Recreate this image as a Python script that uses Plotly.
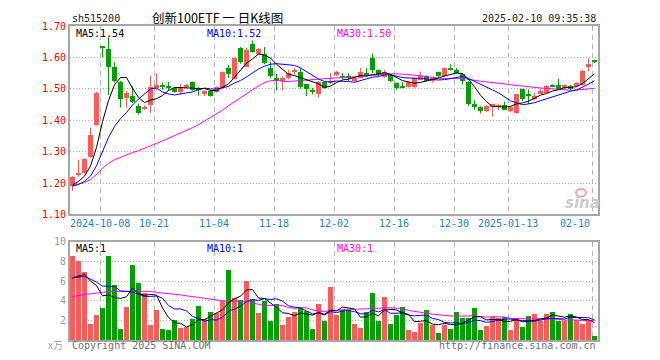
import plotly.graph_objects as go

# ---------------- data ----------------
dates = [
    "2024-09-24", "2024-09-25", "2024-09-26", "2024-09-27", "2024-09-30",
    "2024-10-08", "2024-10-09", "2024-10-10", "2024-10-11", "2024-10-14", "2024-10-15",
    "2024-10-16", "2024-10-17", "2024-10-18", "2024-10-21", "2024-10-22", "2024-10-23",
    "2024-10-24", "2024-10-25", "2024-10-28", "2024-10-29", "2024-10-30", "2024-10-31",
    "2024-11-01", "2024-11-04", "2024-11-05", "2024-11-06", "2024-11-07", "2024-11-08",
    "2024-11-11", "2024-11-12", "2024-11-13", "2024-11-14", "2024-11-15", "2024-11-18",
    "2024-11-19", "2024-11-20", "2024-11-21", "2024-11-22", "2024-11-25", "2024-11-26",
    "2024-11-27", "2024-11-28", "2024-11-29",
    "2024-12-02", "2024-12-03", "2024-12-04", "2024-12-05", "2024-12-06", "2024-12-09",
    "2024-12-10", "2024-12-11", "2024-12-12", "2024-12-13", "2024-12-16", "2024-12-17",
    "2024-12-18", "2024-12-19", "2024-12-20", "2024-12-23", "2024-12-24", "2024-12-25",
    "2024-12-26", "2024-12-27", "2024-12-30", "2024-12-31",
    "2025-01-02", "2025-01-03", "2025-01-06", "2025-01-07", "2025-01-08", "2025-01-09",
    "2025-01-10", "2025-01-13", "2025-01-14", "2025-01-15", "2025-01-16", "2025-01-17",
    "2025-01-20", "2025-01-21", "2025-01-22", "2025-01-23", "2025-01-24", "2025-01-27",
    "2025-02-05", "2025-02-06", "2025-02-07", "2025-02-10",
]

open_ = [1.190, 1.225, 1.233, 1.283, 1.385, 1.632, 1.628, 1.570, 1.522, 1.470,
         1.477, 1.446, 1.437, 1.449, 1.501, 1.509, 1.507, 1.503, 1.490, 1.506,
         1.522, 1.503, 1.485, 1.493, 1.491, 1.501, 1.566, 1.531, 1.631, 1.571,
         1.642, 1.610, 1.612, 1.566, 1.536, 1.524, 1.534, 1.553, 1.555, 1.514,
         1.495, 1.482, 1.522, 1.519, 1.543, 1.537, 1.537, 1.525, 1.536, 1.550,
         1.597, 1.560, 1.537, 1.543, 1.519, 1.506, 1.506, 1.505, 1.529, 1.540,
         1.526, 1.552, 1.540, 1.566, 1.560, 1.547, 1.522, 1.453, 1.441, 1.428,
         1.443, 1.441, 1.447, 1.428, 1.422, 1.498, 1.480, 1.467, 1.485, 1.488,
         1.513, 1.513, 1.501, 1.508, 1.508, 1.511, 1.568, 1.588]
high = [1.222, 1.274, 1.280, 1.376, 1.490, 1.632, 1.664, 1.585, 1.525, 1.493,
        1.508, 1.453, 1.448, 1.542, 1.550, 1.520, 1.522, 1.505, 1.515, 1.515,
        1.523, 1.506, 1.495, 1.495, 1.508, 1.555, 1.576, 1.600, 1.633, 1.630,
        1.654, 1.630, 1.633, 1.586, 1.547, 1.540, 1.560, 1.566, 1.566, 1.516,
        1.503, 1.525, 1.525, 1.550, 1.557, 1.550, 1.550, 1.537, 1.566, 1.566,
        1.612, 1.562, 1.560, 1.546, 1.520, 1.521, 1.524, 1.536, 1.555, 1.543,
        1.536, 1.555, 1.568, 1.578, 1.566, 1.550, 1.524, 1.464, 1.444, 1.449,
        1.453, 1.452, 1.459, 1.443, 1.484, 1.500, 1.498, 1.488, 1.500, 1.512,
        1.514, 1.532, 1.514, 1.512, 1.521, 1.560, 1.597, 1.592]
low = [1.175, 1.220, 1.230, 1.280, 1.383, 1.600, 1.480, 1.520, 1.440, 1.440,
       1.455, 1.418, 1.433, 1.423, 1.495, 1.497, 1.495, 1.488, 1.480, 1.502,
       1.494, 1.478, 1.477, 1.475, 1.488, 1.500, 1.534, 1.530, 1.580, 1.568,
       1.615, 1.607, 1.578, 1.534, 1.495, 1.495, 1.530, 1.545, 1.500, 1.477,
       1.482, 1.472, 1.500, 1.515, 1.540, 1.530, 1.525, 1.522, 1.533, 1.537,
       1.550, 1.540, 1.535, 1.522, 1.497, 1.503, 1.504, 1.503, 1.527, 1.522,
       1.520, 1.538, 1.538, 1.558, 1.548, 1.514, 1.446, 1.433, 1.422, 1.426,
       1.411, 1.432, 1.432, 1.425, 1.420, 1.460, 1.451, 1.465, 1.483, 1.486,
       1.505, 1.496, 1.499, 1.495, 1.506, 1.510, 1.555, 1.582]
close = [1.220, 1.232, 1.275, 1.352, 1.487, 1.630, 1.568, 1.525, 1.469, 1.488,
         1.458, 1.423, 1.443, 1.507, 1.512, 1.507, 1.505, 1.490, 1.506, 1.513,
         1.496, 1.495, 1.493, 1.478, 1.506, 1.552, 1.547, 1.599, 1.586, 1.625,
         1.618, 1.626, 1.581, 1.540, 1.526, 1.534, 1.550, 1.560, 1.505, 1.500,
         1.492, 1.522, 1.503, 1.526, 1.555, 1.535, 1.535, 1.534, 1.553, 1.546,
         1.560, 1.543, 1.555, 1.526, 1.503, 1.504, 1.521, 1.534, 1.540, 1.524,
         1.534, 1.540, 1.566, 1.561, 1.550, 1.526, 1.453, 1.441, 1.428, 1.446,
         1.451, 1.449, 1.434, 1.441, 1.484, 1.467, 1.479, 1.477, 1.493, 1.508,
         1.508, 1.498, 1.511, 1.498, 1.519, 1.557, 1.578, 1.586]
# volume, unit: 万
volume = [8.6, 8.1, 6.9, 1.6, 2.6, 3.3, 8.6, 5.6, 1.1, 3.4,
          7.7, 5.8, 4.8, 1.5, 3.1, 1.1, 1.0, 2.1, 1.2, 1.3,
          2.2, 3.5, 2.2, 2.9, 2.8, 4.0, 7.1, 4.3, 4.1, 6.0,
          4.2, 2.8, 4.0, 1.9, 3.7, 1.5, 2.4, 2.9, 3.3, 3.0,
          1.1, 3.7, 2.0, 5.4, 2.6, 3.1, 3.1, 1.6, 1.2, 2.9,
          4.8, 1.9, 4.4, 1.6, 2.6, 3.4, 1.0, 0.8, 1.7, 3.1,
          1.5, 0.7, 1.5, 1.1, 2.9, 2.3, 2.3, 3.3, 1.0, 1.4,
          2.4, 2.3, 2.4, 1.0, 2.3, 1.3, 2.5, 2.7, 2.0, 2.7,
          2.9, 2.0, 2.0, 2.7, 2.1, 1.6, 2.0, 0.4]

# moving-average values before a full window exists inside the chart
ma5_head = [1.194, 1.205, 1.222, 1.254]
ma10_head = [1.190, 1.195, 1.205, 1.222, 1.255, 1.300, 1.345, 1.380, 1.405]
ma30_head = [1.192, 1.197, 1.202, 1.211, 1.227, 1.248, 1.263, 1.274, 1.282, 1.288,
             1.297, 1.303, 1.310, 1.318, 1.326, 1.334, 1.342, 1.352, 1.359, 1.368,
             1.376, 1.386, 1.397, 1.409, 1.420, 1.432, 1.446, 1.459, 1.472]
vma5_head = [6.33, 6.5, 6.7, 6.0]
vma10_head = [6.33, 6.45, 6.5, 6.2, 5.9, 5.5, 5.45, 5.45, 5.0]
vma30_head = [4.40, 4.55, 4.65, 4.70, 4.75, 4.85, 4.95, 4.97, 4.97, 4.97,
              4.97, 4.97, 4.97, 4.95, 4.85, 4.80, 4.72, 4.65, 4.60, 4.50,
              4.45, 4.35, 4.25, 4.15, 4.05, 4.00, 3.97, 3.95, 3.93]

tick_dates = ["2024-10-08", "2024-10-21", "2024-11-04", "2024-11-18", "2024-12-02",
              "2024-12-16", "2024-12-30", "2025-01-13", "2025-02-10"]
tick_text = ["2024-10-08", "10-21", "11-04", "11-18", "12-02",
             "12-16", "12-30", "2025-01-13", "02-10"]
price_ticks = [1.10, 1.20, 1.30, 1.40, 1.50, 1.60, 1.70]
vol_ticks = [2, 4, 6, 8, 10]

code_text = "sh515200"
title_text = "创新100ETF 一 日K线图"
time_text = "2025-02-10 09:35:38"
price_legend = ["MA5:1.54", "MA10:1.52", "MA30:1.50"]
vol_legend = ["MA5:1", "MA10:1", "MA30:1"]
vol_unit = "x万"
copyright_text = "Copyright 2025 SINA.COM"
url_text = "http://finance.sina.com.cn"

# ---------------- helpers ----------------
def rolling(vals, n, head):
    out = list(head)
    for i in range(len(head), len(vals)):
        out.append(sum(vals[i - n + 1:i + 1]) / n)
    return out

OFF = 8                      # page body margin the figure sits inside
W, H = 660 - OFF, 360 - OFF
ML, MT = 70 - OFF, 20 - OFF
PW, PH = 528, 320
MR, MB = W - ML - PW, H - MT - PH
PXU = 6.0                    # pixels per trading day
X0 = -2.5 / PXU              # range start so candle 0 spans pixels 70..75


def fx(px):                  # px in page coordinates -> paper
    return (px - OFF - ML) / PW


def fy(py):
    return (H - MB - (py - OFF)) / PH


n = len(dates)
xs = list(range(n))
RED, GREEN = "#ff5a5a", "#00a000"
up = [c >= o for o, c in zip(open_, close)]
cols = [RED if u else GREEN for u in up]

ma5 = rolling(close, 5, ma5_head)
ma10 = rolling(close, 10, ma10_head)
ma30 = rolling(close, 30, ma30_head)
vma5 = rolling(volume, 5, vma5_head)
vma10 = rolling(volume, 10, vma10_head)
vma30 = rolling(volume, 30, vma30_head)

grid_x = [dates.index(d) - 2.5 / PXU for d in tick_dates]

fig = go.Figure()

# wicks
for flag, col in ((True, RED), (False, GREEN)):
    wx, wy = [], []
    for i in range(n):
        if up[i] == flag:
            wx += [i, i, None]
            wy += [low[i], high[i], None]
    fig.add_trace(go.Scatter(x=wx, y=wy, mode="lines", line=dict(color=col, width=1),
                             hoverinfo="skip", showlegend=False, xaxis="x", yaxis="y"))

# bodies
base = [min(o, c) for o, c in zip(open_, close)]
hgt = [max(abs(c - o), 0.0035) for o, c in zip(open_, close)]
fig.add_trace(go.Bar(x=xs, y=hgt, base=base, width=5 / PXU, marker=dict(color=cols, line=dict(width=0)),
                     showlegend=False, hoverinfo="skip", xaxis="x", yaxis="y"))

for vals, col in ((ma30, "#ff00ff"), (ma10, "#0000ff"), (ma5, "#000000")):
    fig.add_trace(go.Scatter(x=xs, y=vals, mode="lines", line=dict(color=col, width=1),
                             showlegend=False, hoverinfo="skip", xaxis="x", yaxis="y"))

# volume
fig.add_trace(go.Bar(x=xs, y=volume, width=5 / PXU, marker=dict(color=cols, line=dict(width=0)),
                     showlegend=False, hoverinfo="skip", xaxis="x2", yaxis="y2"))
for vals, col in ((vma30, "#ff00ff"), (vma10, "#0000ff"), (vma5, "#000000")):
    fig.add_trace(go.Scatter(x=xs, y=vals, mode="lines", line=dict(color=col, width=1),
                             showlegend=False, hoverinfo="skip", xaxis="x2", yaxis="y2"))

MONO = "DejaVu Sans Mono"
xr = [X0, X0 + PW / PXU]
xcommon = dict(range=xr, tickvals=grid_x, showticklabels=False, ticks="",
               showgrid=True, gridcolor="#b4b4b4", gridwidth=1, griddash="5px,4px",
               showline=True, linecolor="#a6a6a6", linewidth=2, mirror=True, zeroline=False,
               fixedrange=True)

fig.update_layout(
    width=W, height=H,
    margin=dict(l=ML, r=MR, t=MT, b=MB),
    paper_bgcolor="white", plot_bgcolor="white",
    barmode="overlay", bargap=0,
    xaxis=dict(domain=[0, 1], anchor="y", **xcommon),
    xaxis2=dict(domain=[0, 1], anchor="y2", matches="x", **xcommon),
    yaxis=dict(domain=[fy(212), 1.0], range=[1.10, 1.70], tickvals=price_ticks,
               ticktext=["%.2f" % v for v in price_ticks], ticks="",
               tickfont=dict(family=MONO, size=10, color="#ee0000"),
               showgrid=True, gridcolor="#a8a8a8", gridwidth=1, griddash="1px,2px",
               showline=True, linecolor="#a6a6a6", linewidth=2, mirror=True, zeroline=False),
    yaxis2=dict(domain=[0, fy(240)], range=[0, 10], tickvals=vol_ticks,
                ticktext=[str(v) for v in vol_ticks], ticks="",
                tickfont=dict(family=MONO, size=10, color="#999999"),
                showgrid=True, gridcolor="#a8a8a8", gridwidth=1, griddash="1px,2px",
                showline=True, linecolor="#a6a6a6", linewidth=2, mirror=True, zeroline=False),
)

ann = []


def text(x, y, s, color="#000", size=10, family=MONO, xanchor="left", xref="paper"):
    ann.append(dict(x=x, y=y, xref=xref, yref="paper", text=s, showarrow=False,
                    xanchor=xanchor, yanchor="middle",
                    font=dict(family=family, size=size, color=color)))


text(fx(70), fy(12.5), code_text, "#222")
text(fx(150), fy(11.5), title_text, "#000", 12.5, "Noto Sans CJK SC")
text(fx(598), fy(12.5), time_text, "#222", xanchor="right")

for gx, lab, k in zip(grid_x, tick_text, range(len(tick_text))):
    text(gx, fy(221.5), lab, "#1b7fd6", xanchor=("right" if k == len(tick_text) - 1 else "center"),
         xref="x")

for s, px, col in zip(price_legend, (74, 205, 335), ("#000000", "#0000ff", "#ff00ff")):
    text(fx(px), fy(27.5), s, col)
for s, px, col in zip(vol_legend, (74, 205, 335), ("#000000", "#0000ff", "#ff00ff")):
    text(fx(px), fy(247), s, col)

text(fx(65), fy(344.5), vol_unit, "#a0a0a0", 10, "Noto Sans CJK SC", xanchor="right")
text(fx(70), fy(346), copyright_text, "#6e6e6e")
text(fx(598), fy(346), url_text, "#6e6e6e", xanchor="right")
text(fx(582), fy(200), "<b><i>sina</i></b>", "#cccccc", 15, "DejaVu Sans", xanchor="center")

fig.update_layout(annotations=ann)
fig.add_shape(type="circle", xref="paper", yref="paper",
              x0=fx(576), x1=fx(586), y0=fy(194), y1=fy(186),
              line=dict(color="#f2a6a6", width=2))

fig.write_html("out.html")
